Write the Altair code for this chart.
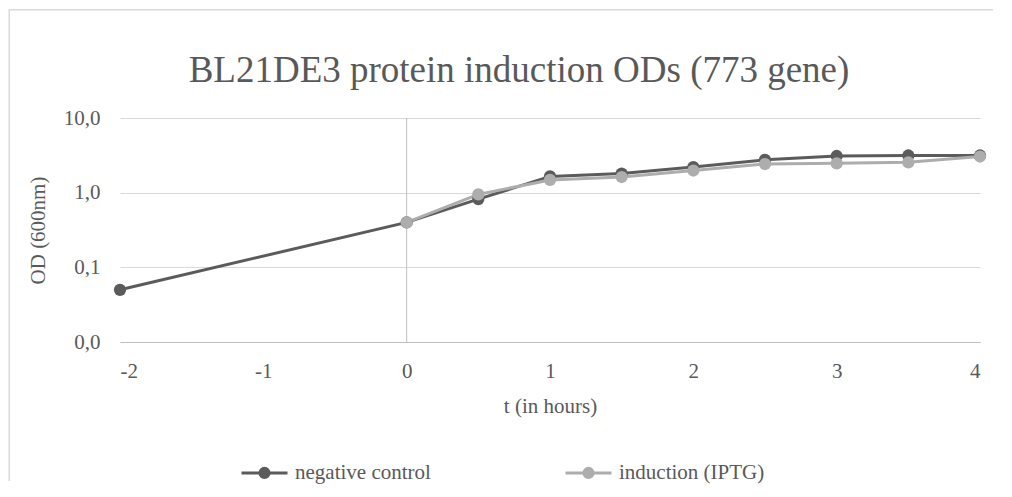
import altair as alt
import pandas as pd

# ---- data ----
t_neg = [-2, 0, 0.5, 1, 1.5, 2, 2.5, 3, 3.5, 4]
od_neg = [0.05, 0.40, 0.82, 1.65, 1.80, 2.20, 2.75, 3.10, 3.15, 3.15]
t_ind = [0, 0.5, 1, 1.5, 2, 2.5, 3, 3.5, 4]
od_ind = [0.40, 0.95, 1.48, 1.62, 1.98, 2.42, 2.47, 2.55, 3.05]
series_names = ["negative control", "induction (IPTG)"]
series_colors = ["#5b5b5b", "#adadad"]
y_ticks = [0.01, 0.1, 1, 10]
x_ticks = [-2, -1, 0, 1, 2, 3, 4]
title_text = "BL21DE3 protein induction ODs (773 gene)"

rows = [{"t": t, "od": v, "series": series_names[0]} for t, v in zip(t_neg, od_neg)]
rows += [{"t": t, "od": v, "series": series_names[1]} for t, v in zip(t_ind, od_ind)]
df = pd.DataFrame(rows)

FONT = "Liberation Serif"
TXT = "#595959"
W, H = 860, 224
PAD = {"left": 112, "top": 110, "right": 16, "bottom": 142}

color_scale = alt.Scale(domain=series_names, range=series_colors)
sym_path = "M-1,0L1,0M0.2,0A0.2,0.2,0,1,1,-0.2,0A0.2,0.2,0,1,1,0.2,0Z"
legend = alt.Legend(
    title=None, orient="none", direction="horizontal", legendX=120, legendY=330,
    symbolType=sym_path, symbolSize=2116, symbolStrokeWidth=3,
    labelFont=FONT, labelFontSize=21, labelColor=TXT, labelOffset=6,
    columnPadding=128, padding=0, labelLimit=400,
)

x_enc = alt.X("t:Q", scale=alt.Scale(domain=[-2, 4], nice=False, zero=False),
              axis=alt.Axis(values=x_ticks, title="t (in hours)", grid=False, ticks=False,
                            domainColor="#bfbfbf", domainWidth=1, labelPadding=18,
                            titlePadding=14, labelExpr="'' + datum.value"))
y_enc = alt.Y("od:Q", scale=alt.Scale(type="log", domain=[0.01, 10], nice=False),
              axis=alt.Axis(values=y_ticks, title="OD (600nm)", ticks=False, domain=False,
                            gridColor="#d9d9d9", gridWidth=1, labelPadding=20,
                            labelExpr="replace(format(datum.value, '.1f'), '.', ',')",
                            titleX=-82, titleY=H / 2, titleAngle=-90,
                            titleAlign="center", titleBaseline="middle"))

# chart-area border (top and left edges; the others fall outside the picture)
one = pd.DataFrame({"a": [0]})
border_top = alt.Chart(one).mark_rect(fill="#d9d9d9", stroke=None).encode(
    x=alt.value(-PAD["left"] + 1), x2=alt.value(W + PAD["right"] - 3),
    y=alt.value(-PAD["top"] + 1), y2=alt.value(-PAD["top"] + 2.5))
border_left = alt.Chart(one).mark_rect(fill="#d9d9d9", stroke=None).encode(
    x=alt.value(-PAD["left"] + 0.5), x2=alt.value(-PAD["left"] + 2),
    y=alt.value(-PAD["top"] + 1), y2=alt.value(H + PAD["bottom"] - 3))

title = alt.Chart(pd.DataFrame({"label": [title_text]})).mark_text(
    font=FONT, fontSize=37, color=TXT, align="center", baseline="alphabetic"
).encode(text="label:N", x=alt.value(W / 2 - 31), y=alt.value(-36))

vline = alt.Chart(pd.DataFrame({"t": [0]})).mark_rule(color="#bfbfbf", strokeWidth=1).encode(x="t:Q")

lines = alt.Chart(df).mark_line(strokeWidth=3).encode(
    x=x_enc, y=y_enc,
    stroke=alt.Stroke("series:N", scale=color_scale, legend=legend),
    order=alt.Order("t:Q"),
)
points = alt.Chart(df).mark_point(filled=True, size=150, opacity=1).encode(
    x="t:Q", y="od:Q",
    fill=alt.Fill("series:N", scale=color_scale, legend=legend),
)

chart = alt.layer(border_top, border_left, title, vline, lines, points).properties(
    width=W, height=H,
    autosize=alt.AutoSizeParams(type="none"),
    padding=PAD,
).configure_view(stroke=None).configure_axis(
    labelFont=FONT, labelFontSize=21, labelColor=TXT,
    titleFont=FONT, titleFontSize=21, titleColor=TXT, titleFontWeight="normal",
)

chart.save("out.html", embed_options={"renderer": "svg", "actions": False})
